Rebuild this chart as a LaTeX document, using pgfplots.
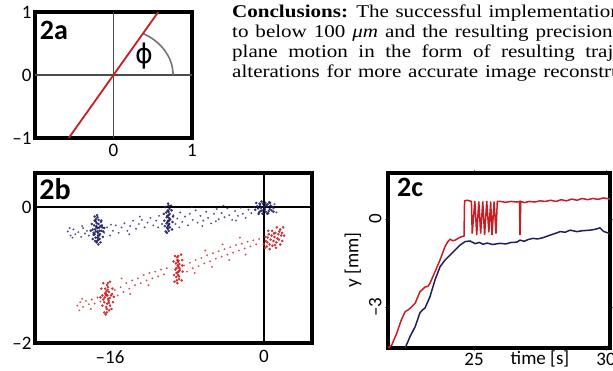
\documentclass[border=0pt]{standalone}
\usepackage{pgfplots}
\pgfplotsset{compat=1.18}
\usepackage{fontspec}
\setmainfont{Carlito}
\newfontfamily\tnr[FakeStretch=1.17]{Liberation Serif}
\newfontfamily\dvs{DejaVu Sans}
\definecolor{myred}{RGB}{200,30,35}
\definecolor{mynavy}{RGB}{30,30,95}
\pgfplotsset{
  panel/.style={scale only axis, axis line style={line width=3.2pt}, major tick length=0pt,
    tick label style={font=\fontsize{19}{19}\selectfont}, clip=true},
}
\begin{document}
\begin{tikzpicture}[x=1pt,y=1pt]
\path[use as bounding box] (0pt,0pt) rectangle (613pt,370pt);

% ---------- panel 2a
\begin{axis}[panel, at={(35pt,232pt)}, anchor=south west, width=157pt, height=126pt,
  xmin=-1,xmax=1,ymin=-1,ymax=1, xtick={0,1}, xticklabels={0,1},
  ytick={-1,0,1}, yticklabels={–1,0,1}, xticklabel style={yshift=-3pt}]
\addplot[black!70, line width=1.2pt] coordinates {(0,-1) (0,1)};
\addplot[black!70, line width=1.2pt] coordinates {(-1,0) (1,0)};
\addplot[black!55, line width=1.6pt, smooth] coordinates {(0.76,0) (0.748,0.132) (0.714,0.26) (0.658,0.38) (0.582,0.489) (0.489,0.582) (0.38,0.658)};
\addplot[myred, line width=1.8pt] coordinates {(-0.57,-1) (0.57,1)};
\node at (axis cs:0.39,0.3) {\dvs\fontsize{27}{27}\selectfont ϕ};
\node[anchor=north west, inner sep=0pt] at (rel axis cs:0.03,0.93) {\fontsize{28}{28}\selectfont\bfseries 2a};
\end{axis}

% ---------- panel 2b
\begin{axis}[panel, at={(35pt,27pt)}, anchor=south west, width=277pt, height=170pt,
  xmin=-23.8,xmax=5,ymin=-2,ymax=0.5, xtick={-16,0}, xticklabels={–16,0},
  ytick={-2,0}, yticklabels={–2,0}, xticklabel style={yshift=-4pt}]
\addplot[black, line width=1.4pt] coordinates {(0,-2) (0,0.5)};
\addplot[black, line width=1.4pt] coordinates {(-23.8,0) (5,0)};
% blue scatter
\addplot[only marks, mark=*, mark size=0.8pt, mynavy, opacity=0.6] coordinates {
(-20.4,-0.36) (-20.1,-0.42) (-19.8,-0.33) (-19.6,-0.4) (-19.3,-0.37) (-19.0,-0.44) (-18.8,-0.31) (-18.6,-0.39) (-18.4,-0.35) (-18.2,-0.42) (-19.9,-0.45) (-20.2,-0.31) (-18.9,-0.28)
(-16.6,-0.38) (-16.3,-0.3) (-16.0,-0.42) (-15.7,-0.35) (-15.4,-0.27) (-15.1,-0.38) (-14.8,-0.3) (-14.5,-0.24) (-14.2,-0.35) (-13.9,-0.28) (-13.6,-0.2) (-13.3,-0.32) (-13.0,-0.25) (-12.7,-0.19) (-12.4,-0.3) (-12.1,-0.23) (-11.8,-0.16) (-11.5,-0.27) (-11.2,-0.2) (-10.9,-0.13) (-10.6,-0.25) (-14.0,-0.4) (-12.9,-0.14) (-15.9,-0.26) (-11.0,-0.3)
(-9.4,-0.12) (-9.2,-0.25) (-9.0,-0.17) (-8.7,-0.08) (-8.5,-0.22) (-8.2,-0.14) (-7.9,-0.27) (-7.7,-0.1) (-7.4,-0.19) (-7.1,-0.05) (-6.9,-0.23) (-6.6,-0.13) (-6.3,-0.2) (-6.0,-0.07) (-5.8,-0.16) (-5.5,-0.24) (-5.2,-0.1) (-4.9,-0.03) (-4.7,-0.18) (-4.4,-0.09) (-4.1,-0.15) (-3.8,-0.02) (-3.6,-0.12) (-3.3,-0.19) (-3.0,-0.06) (-2.7,-0.13) (-2.4,-0.01) (-2.2,-0.1) (-1.9,-0.16) (-1.6,-0.04) (-1.3,-0.09) (-1.0,0.0) (-8.8,-0.3) (-6.4,-0.28) (-5.0,-0.21) (-2.9,-0.2) (-7.5,0.0) (-4.2,0.02) (1.0,-0.02) (1.3,-0.08) (1.1,0.04)
};
\addplot[only marks, mark=*, mark size=1.1pt, mynavy, opacity=0.85] coordinates {
(-17.5,-0.21) (-17.2,-0.25) (-17.4,-0.3) (-17.1,-0.35) (-17.6,-0.4) (-17.3,-0.45) (-17.0,-0.28) (-17.45,-0.18) (-17.25,-0.38) (-17.35,-0.5) (-17.15,-0.42) (-17.55,-0.33) (-16.95,-0.22) (-17.65,-0.27) (-17.3,-0.15) (-17.2,-0.48) (-17.4,-0.52) (-17.05,-0.4) (-17.5,-0.45) (-17.28,-0.31) (-17.38,-0.24) (-17.12,-0.3) (-16.9,-0.35) (-17.7,-0.38) (-17.32,-0.36) (-17.18,-0.19) (-17.48,-0.36) (-17.08,-0.47) (-17.6,-0.2) (-17.22,-0.55) (-16.8,-0.3) (-17.8,-0.33) (-17.35,-0.12) (-17.25,-0.42) (-17.42,-0.28)
(-17.9,-0.25) (-17.7,-0.41) (-16.7,-0.36) (-16.9,-0.2) (-17.8,-0.47) (-16.75,-0.44) (-17.6,-0.14) (-17.0,-0.52) (-17.55,-0.5) (-16.85,-0.27) (-18.0,-0.35) (-16.6,-0.31)
(-9.9,0.02) (-10.0,-0.05) (-9.8,-0.1) (-10.1,-0.15) (-9.95,-0.2) (-9.85,-0.25) (-10.05,-0.3) (-9.9,-0.35) (-9.75,-0.18) (-10.15,-0.08) (-9.92,-0.12) (-10.02,-0.22) (-9.82,-0.03) (-9.97,-0.28) (-10.08,-0.38) (-9.88,-0.16) (-9.78,-0.3) (-10.12,-0.24) (-9.93,-0.07) (-10.0,-0.32) (-9.86,-0.2) (-10.04,-0.13) (-9.96,0.05) (-9.9,-0.26)
(-10.4,-0.1) (-9.5,-0.22) (-10.3,-0.28) (-9.6,-0.05) (-10.25,0.0) (-9.55,-0.33) (-10.35,-0.2) (-9.45,-0.14) (-10.2,-0.36) (-9.65,0.02)
(-0.6,-0.02) (-0.4,0.03) (-0.2,-0.05) (0.0,0.0) (0.2,-0.07) (0.4,0.04) (0.6,-0.03) (-0.5,-0.08) (-0.3,-0.01) (-0.1,0.05) (0.1,-0.03) (0.3,0.01) (0.5,-0.06) (0.7,0.02) (-0.7,0.01) (-0.35,-0.06) (0.15,0.06) (0.45,-0.09) (-0.15,-0.1) (0.05,-0.04) (0.8,-0.05) (-0.45,0.05) (0.25,0.03) (0.65,0.06)
(-0.9,-0.04) (0.9,0.0) (-0.8,0.06) (1.0,-0.07) (-0.25,0.08) (0.55,0.07) (0.35,-0.1) (-0.55,-0.1)
};
% red scatter
\addplot[only marks, mark=*, mark size=0.8pt, myred, opacity=0.6] coordinates {
(-19.4,-1.45) (-19.1,-1.4) (-18.8,-1.47) (-18.5,-1.38) (-18.2,-1.43) (-17.9,-1.36) (-17.6,-1.42) (-17.3,-1.33) (-17.0,-1.39) (-18.9,-1.35) (-18.0,-1.5) (-19.2,-1.52)
(-15.5,-1.22) (-15.2,-1.3) (-14.9,-1.18) (-14.6,-1.25) (-14.3,-1.12) (-14.0,-1.2) (-13.7,-1.08) (-13.4,-1.15) (-13.1,-1.05) (-12.8,-1.12) (-12.5,-1.0) (-12.2,-1.08) (-11.9,-0.97) (-11.6,-1.05) (-11.3,-0.95) (-11.0,-1.02) (-10.7,-0.92) (-10.4,-0.99) (-10.1,-0.9) (-13.9,-1.28) (-12.0,-1.15) (-14.8,-1.05)
(-8.3,-0.86) (-8.0,-0.95) (-7.7,-0.82) (-7.4,-0.9) (-7.1,-0.78) (-6.8,-0.87) (-6.5,-0.75) (-6.2,-0.83) (-5.9,-0.71) (-5.6,-0.8) (-5.3,-0.68) (-5.0,-0.76) (-4.7,-0.65) (-4.4,-0.73) (-4.1,-0.62) (-3.8,-0.7) (-3.5,-0.59) (-3.2,-0.67) (-2.9,-0.56) (-2.6,-0.64) (-2.3,-0.54) (-2.0,-0.61) (-1.7,-0.51) (-1.4,-0.58) (-1.1,-0.49) (-0.8,-0.55) (-0.5,-0.47) (-7.2,-0.97) (-5.4,-0.88) (-3.6,-0.78) (-6.1,-0.64) (-4.3,-0.55) (-1.9,-0.7) (-2.5,-0.45)
};
\addplot[only marks, mark=*, mark size=1.1pt, myred, opacity=0.85] coordinates {
(-16.3,-1.15) (-16.5,-1.2) (-16.1,-1.25) (-16.4,-1.3) (-16.2,-1.35) (-16.6,-1.4) (-16.0,-1.45) (-16.35,-1.5) (-16.25,-1.22) (-16.45,-1.28) (-16.15,-1.38) (-16.55,-1.33) (-15.9,-1.3) (-16.7,-1.36) (-16.3,-1.42) (-16.2,-1.18) (-16.4,-1.47) (-16.05,-1.34) (-16.5,-1.27) (-16.28,-1.3) (-16.38,-1.24) (-16.12,-1.41) (-15.8,-1.28) (-16.8,-1.3) (-16.32,-1.55) (-16.22,-1.12)
(-16.9,-1.2) (-15.7,-1.4) (-16.8,-1.45) (-15.75,-1.2) (-17.0,-1.33) (-15.6,-1.32) (-16.6,-1.55) (-16.0,-1.1) (-16.7,-1.12) (-15.85,-1.5) (-16.45,-1.58) (-16.1,-1.52)
(-8.9,-0.72) (-9.0,-0.78) (-8.8,-0.84) (-9.1,-0.9) (-8.95,-0.96) (-8.85,-1.02) (-9.05,-1.08) (-8.9,-0.88) (-8.75,-0.93) (-9.15,-0.83) (-8.92,-1.0) (-9.02,-0.74) (-8.82,-1.06) (-8.97,-0.86) (-8.88,-0.79) (-9.08,-0.97) (-8.78,-0.9) (-9.0,-1.12) (-8.86,-0.95) (-8.94,-0.81) (-9.12,-1.03)
(-9.4,-0.8) (-8.45,-0.95) (-9.35,-1.0) (-8.5,-0.78) (-9.3,-1.1) (-8.55,-1.08) (-9.25,-0.72) (-8.6,-0.7) (-9.2,-0.92) (-8.5,-0.86)
(0.2,-0.5) (0.4,-0.45) (0.6,-0.55) (0.8,-0.42) (1.0,-0.5) (1.2,-0.38) (1.4,-0.46) (1.6,-0.36) (1.8,-0.42) (0.3,-0.58) (0.5,-0.4) (0.7,-0.48) (0.9,-0.57) (1.1,-0.44) (1.3,-0.52) (1.5,-0.4) (1.7,-0.33) (1.9,-0.38) (0.35,-0.52) (0.85,-0.35) (1.25,-0.6) (0.15,-0.44) (1.55,-0.48) (1.05,-0.39)
(0.0,-0.55) (2.0,-0.3) (2.1,-0.42) (0.1,-0.6) (1.9,-0.5) (1.35,-0.3) (0.6,-0.62) (1.7,-0.55) (0.45,-0.35) (1.15,-0.56)
};
\node[anchor=north west, inner sep=0pt] at (rel axis cs:0.015,0.97) {\fontsize{30}{30}\selectfont\bfseries 2b};
\end{axis}

% ---------- panel 2c
\begin{axis}[panel, at={(388pt,22pt)}, anchor=south west, width=222pt, height=175pt,
  xmin=21.74,xmax=30.15,ymin=-4.4,ymax=1.57, xtick={25,30}, xticklabels={25,30},
  ytick={-3,0}, yticklabels={–3,0}, xticklabel style={yshift=1pt},
  yticklabel style={rotate=90}, major tick length=3pt, tick align=outside, tick style={line width=0.8pt}]
\addplot[myred, line width=1.5pt] coordinates {
(21.74,-4.4) (21.88,-4.3) (22.07,-3.9) (22.24,-3.45) (22.39,-3.16) (22.5,-3.1) (22.58,-3.04) (22.77,-2.87) (22.95,-2.48) (23.05,-2.4) (23.14,-2.32) (23.25,-2.3) (23.33,-2.19) (23.52,-1.8) (23.71,-1.4) (23.9,-0.94) (24.0,-0.78) (24.09,-0.69) (24.2,-0.74) (24.28,-0.72) (24.4,-0.66) (24.47,-0.62) (24.62,-0.58)
(24.64,0.62) (24.75,0.64) (24.9,0.6) (24.93,-0.5) (25.03,0.62) (25.1,-0.55) (25.18,0.6) (25.25,-0.5) (25.33,0.6) (25.4,-0.55) (25.48,0.62) (25.56,-0.45) (25.63,0.6) (25.68,-0.55) (25.76,0.6) (25.83,-0.5) (25.88,0.6)
(26.0,0.6) (26.2,0.57) (26.4,0.6) (26.6,0.58) (26.72,0.6) (26.74,-0.55) (26.77,0.6) (26.9,0.56) (27.1,0.6) (27.3,0.58) (27.5,0.62) (27.7,0.6) (27.9,0.64) (28.1,0.6) (28.3,0.66) (28.5,0.62) (28.7,0.68) (28.9,0.64) (29.1,0.7) (29.3,0.66) (29.5,0.7) (29.7,0.67) (29.9,0.72) (30.15,0.68)
};
\addplot[mynavy, line width=1.5pt] coordinates {
(22.39,-4.4) (22.58,-4.0) (22.77,-3.67) (22.95,-3.2) (23.05,-3.1) (23.14,-3.04) (23.33,-2.65) (23.52,-2.08) (23.71,-1.63) (23.9,-1.4) (24.09,-1.23) (24.28,-1.06) (24.47,-0.89) (24.66,-0.77) (24.85,-0.75) (25.04,-0.84) (25.2,-0.8) (25.34,-0.86) (25.5,-0.82) (25.7,-0.87) (25.98,-0.83) (26.2,-0.85) (26.4,-0.8) (26.62,-0.79) (26.74,-0.72) (26.9,-0.76) (27.05,-0.7) (27.23,-0.66) (27.4,-0.68) (27.6,-0.64) (27.88,-0.55) (28.05,-0.5) (28.26,-0.43) (28.45,-0.45) (28.64,-0.38) (28.9,-0.43) (29.1,-0.4) (29.39,-0.38) (29.6,-0.35) (29.77,-0.3) (29.9,-0.42) (30.15,-0.5)
};
\node[anchor=north west, inner sep=0pt] at (rel axis cs:0.04,0.97) {\fontsize{28}{28}\selectfont\bfseries 2c};
\end{axis}
\node[rotate=90] at (353pt,110pt) {\fontsize{19}{19}\selectfont y [mm]};
\node[anchor=base] at (540pt,6pt) {\fontsize{19}{19}\selectfont time [s]};

% ---------- text
\tnr\fontsize{18}{18}\selectfont
\node[anchor=base west, inner sep=0pt] at (232pt,352pt) {\spaceskip=6.5pt \textbf{Conclusions:} The successful implementation of the};
\node[anchor=base west, inner sep=0pt] at (232pt,332pt) {\spaceskip=6.9pt to below 100 \textit{μm} and the resulting precision of};
\node[anchor=base west, inner sep=0pt] at (232pt,312pt) {\spaceskip=10.5pt plane motion in the form of resulting trajectories};
\node[anchor=base west, inner sep=0pt] at (232pt,292pt) {\spaceskip=6.8pt alterations for more accurate image reconstruction.};
\end{tikzpicture}
\end{document}
